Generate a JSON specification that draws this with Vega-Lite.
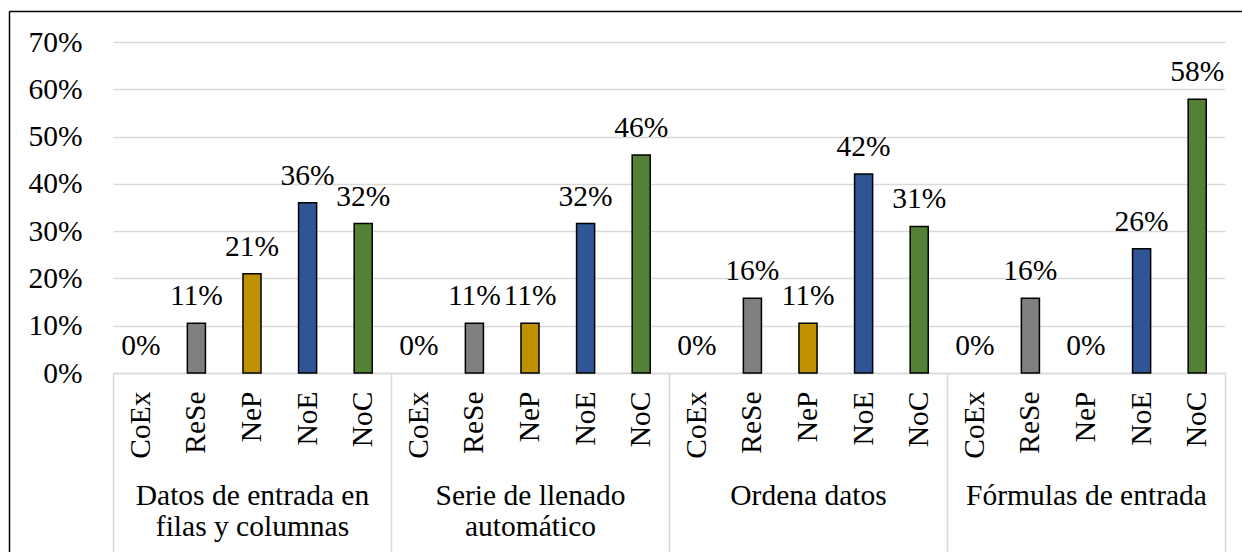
{
  "$schema": "https://vega.github.io/schema/vega-lite/v6.json",
  "width": 1112,
  "height": 331,
  "autosize": {"type": "none"},
  "padding": {"left": 113, "top": 42, "right": 17, "bottom": 179},
  "background": "white",
  "config": {"view": {"stroke": null}, "font": "Liberation Serif"},
  "data": {
    "values": [
      {"group": "Datos de entrada en|filas y columnas", "cat": "CoEx", "key": "1|CoEx", "value": 0, "label": "0%"},
      {"group": "Datos de entrada en|filas y columnas", "cat": "ReSe", "key": "1|ReSe", "value": 0.105, "label": "11%"},
      {"group": "Datos de entrada en|filas y columnas", "cat": "NeP", "key": "1|NeP", "value": 0.21, "label": "21%"},
      {"group": "Datos de entrada en|filas y columnas", "cat": "NoE", "key": "1|NoE", "value": 0.36, "label": "36%"},
      {"group": "Datos de entrada en|filas y columnas", "cat": "NoC", "key": "1|NoC", "value": 0.316, "label": "32%"},
      {"group": "Serie de llenado|automático", "cat": "CoEx", "key": "2|CoEx", "value": 0, "label": "0%"},
      {"group": "Serie de llenado|automático", "cat": "ReSe", "key": "2|ReSe", "value": 0.105, "label": "11%"},
      {"group": "Serie de llenado|automático", "cat": "NeP", "key": "2|NeP", "value": 0.105, "label": "11%"},
      {"group": "Serie de llenado|automático", "cat": "NoE", "key": "2|NoE", "value": 0.316, "label": "32%"},
      {"group": "Serie de llenado|automático", "cat": "NoC", "key": "2|NoC", "value": 0.461, "label": "46%"},
      {"group": "Ordena datos", "cat": "CoEx", "key": "3|CoEx", "value": 0, "label": "0%"},
      {"group": "Ordena datos", "cat": "ReSe", "key": "3|ReSe", "value": 0.158, "label": "16%"},
      {"group": "Ordena datos", "cat": "NeP", "key": "3|NeP", "value": 0.105, "label": "11%"},
      {"group": "Ordena datos", "cat": "NoE", "key": "3|NoE", "value": 0.421, "label": "42%"},
      {"group": "Ordena datos", "cat": "NoC", "key": "3|NoC", "value": 0.31, "label": "31%"},
      {"group": "Fórmulas de entrada", "cat": "CoEx", "key": "4|CoEx", "value": 0, "label": "0%"},
      {"group": "Fórmulas de entrada", "cat": "ReSe", "key": "4|ReSe", "value": 0.158, "label": "16%"},
      {"group": "Fórmulas de entrada", "cat": "NeP", "key": "4|NeP", "value": 0, "label": "0%"},
      {"group": "Fórmulas de entrada", "cat": "NoE", "key": "4|NoE", "value": 0.263, "label": "26%"},
      {"group": "Fórmulas de entrada", "cat": "NoC", "key": "4|NoC", "value": 0.579, "label": "58%"}
    ]
  },
  "layer": [
    {
      "encoding": {
        "x": {
          "field": "key", "type": "nominal", "sort": null,
          "scale": {"paddingInner": 0.675, "paddingOuter": 0.3375},
          "axis": {
            "title": null, "labelExpr": "split(datum.value, '|')[1]",
            "labelAngle": -90, "labelAlign": "right", "labelBaseline": "middle",
            "labelFont": "Liberation Serif", "labelFontSize": 29.5, "labelColor": "black",
            "labelPadding": 18, "ticks": false, "domain": false, "grid": false, "labelLimit": 0
          }
        },
        "y": {
          "field": "value", "type": "quantitative",
          "scale": {"domain": [0, 0.7], "nice": false},
          "axis": {
            "title": null, "format": ".0%", "values": [0, 0.1, 0.2, 0.3, 0.4, 0.5, 0.6, 0.7],
            "labelFont": "Liberation Serif", "labelFontSize": 29.5, "labelColor": "black",
            "labelPadding": 31, "ticks": false, "domain": false,
            "gridColor": "#d9d9d9", "gridWidth": 1.5
          }
        }
      },
      "layer": [
        {
          "mark": {"type": "bar", "stroke": "black"},
          "encoding": {
            "color": {
              "field": "cat", "type": "nominal", "legend": null,
              "scale": {"domain": ["CoEx", "ReSe", "NeP", "NoE", "NoC"], "range": ["#a5a5a5", "#7f7f7f", "#bf9000", "#2f5597", "#538135"]}
            },
            "strokeWidth": {"condition": {"test": "datum.value > 0", "value": 1.5}, "value": 0}
          }
        },
        {
          "mark": {"type": "text", "baseline": "alphabetic", "dy": -18, "fontSize": 29.5, "color": "black", "font": "Liberation Serif"},
          "encoding": {"text": {"field": "label"}}
        }
      ]
    },
    {
      "mark": {"type": "point", "opacity": 0},
      "encoding": {
        "x": {
          "field": "group", "type": "nominal", "sort": null,
          "scale": {"paddingInner": 0, "paddingOuter": 0},
          "axis": {
            "orient": "bottom", "title": null, "tickBand": "extent",
            "tickSize": 180, "tickColor": "#d9d9d9", "tickWidth": 1.5,
            "domainColor": "#d9d9d9", "domainWidth": 1.5,
            "labelExpr": "isValid(datum.value) ? split(datum.value, '|') : ''", "labelAngle": 0,
            "labelAlign": "center", "labelBaseline": "top", "labelLimit": 0,
            "labelFont": "Liberation Serif", "labelFontSize": 29.5, "labelColor": "black",
            "labelPadding": -72, "labelLineHeight": 31, "grid": false
          }
        }
      }
    },
    {
      "mark": {"type": "point", "opacity": 0},
      "encoding": {
        "x": {
          "field": "group", "type": "nominal", "sort": null,
          "scale": {"range": [-104, 1129], "paddingInner": 0, "paddingOuter": 0},
          "axis": {
            "orient": "top", "title": null, "offset": 31, "labels": false, "ticks": false,
            "grid": false, "domainColor": "black", "domainWidth": 1.5
          }
        },
        "y": {
          "field": "value", "type": "quantitative",
          "scale": {"domain": [0, 0.7], "range": [510, -31], "nice": false},
          "axis": {
            "orient": "left", "title": null, "offset": 104, "labels": false, "ticks": false,
            "grid": false, "domainColor": "black", "domainWidth": 1.5
          }
        }
      }
    }
  ],
  "resolve": {"scale": {"x": "independent", "y": "independent"}}
}
